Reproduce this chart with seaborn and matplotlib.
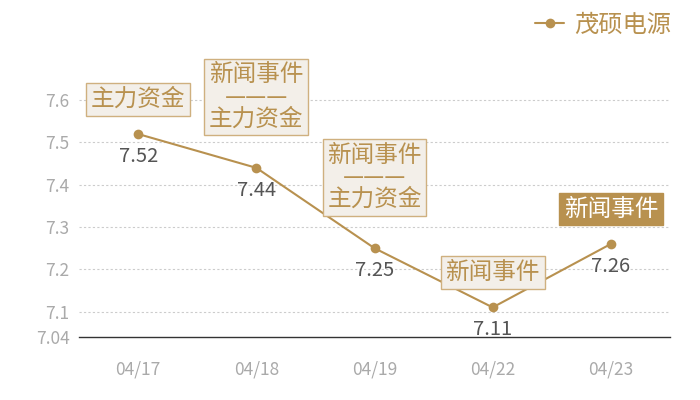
import matplotlib
matplotlib.use("Agg")
import matplotlib.pyplot as plt
import seaborn as sns
import pandas as pd

dates = ['04/17', '04/18', '04/19', '04/22', '04/23']
prices = [7.52, 7.44, 7.25, 7.11, 7.26]
events = ['主力资金', '新闻事件\n———\n主力资金', '新闻事件\n———\n主力资金', '新闻事件', '新闻事件']
highlight = [False, False, False, False, True]
series_name = '茂硕电源'
yticks = [7.04, 7.1, 7.2, 7.3, 7.4, 7.5, 7.6]

gold = '#b8914f'
box_fill = '#f3efe9'
box_edge = '#cfb07f'

sns.set_style('white')
plt.rcParams['font.family'] = ['Noto Sans CJK SC', 'DejaVu Sans']

df = pd.DataFrame({'date': dates, 'price': prices})

fig = plt.figure(figsize=(7, 4), dpi=100)
ax = fig.add_axes([0.113, 0.1575, 0.844, 0.7675])

sns.lineplot(data=df, x='date', y='price', ax=ax, color=gold, linewidth=1.5,
             marker='o', markersize=7, markeredgewidth=0, label=series_name, zorder=3)

ax.set_xlim(-0.5, len(dates) - 0.5)
ax.set_ylim(7.04, 7.766)
ax.set_yticks(yticks)
ax.set_yticklabels(['7.04', '7.1', '7.2', '7.3', '7.4', '7.5', '7.6'])
ax.set_xlabel('')
ax.set_ylabel('')

for t in yticks[1:]:
    ax.axhline(t, color='#cccccc', linestyle=(0, (2, 2)), linewidth=0.8, zorder=0)

for s in ['top', 'right', 'left']:
    ax.spines[s].set_visible(False)
ax.spines['bottom'].set_color('#333333')
ax.spines['bottom'].set_linewidth(1)

ax.tick_params(axis='y', length=0, pad=7, labelsize=12.5, labelcolor='#aaaaaa')
ax.tick_params(axis='x', length=0, pad=17, labelsize=12.5, labelcolor='#aaaaaa')

for i, (p, ev, hl) in enumerate(zip(prices, events, highlight)):
    ax.annotate(f'{p:.2f}', (i, p), xytext=(0, -16), textcoords='offset points',
                ha='center', va='center', fontsize=14.5, color='#555555', zorder=4)
    nlines = ev.count('\n') + 1
    off = 25 if nlines == 1 else 51
    if hl:
        bbox = dict(boxstyle='square,pad=0.2', fc=gold, ec=gold, lw=1)
        tc = 'white'
    else:
        bbox = dict(boxstyle='square,pad=0.2', fc=box_fill, ec=box_edge, lw=1)
        tc = gold
    ax.annotate(ev, (i, p), xytext=(0, off), textcoords='offset points',
                ha='center', va='center', fontsize=17, color=tc,
                linespacing=0.95, bbox=bbox, zorder=5)

leg = ax.legend(loc='upper right', bbox_to_anchor=(0.99, 1.025), bbox_transform=fig.transFigure,
                frameon=False, fontsize=17.5, handlelength=1.2, handletextpad=0.4,
                labelcolor=gold)

fig.savefig('out.png', dpi=100)
